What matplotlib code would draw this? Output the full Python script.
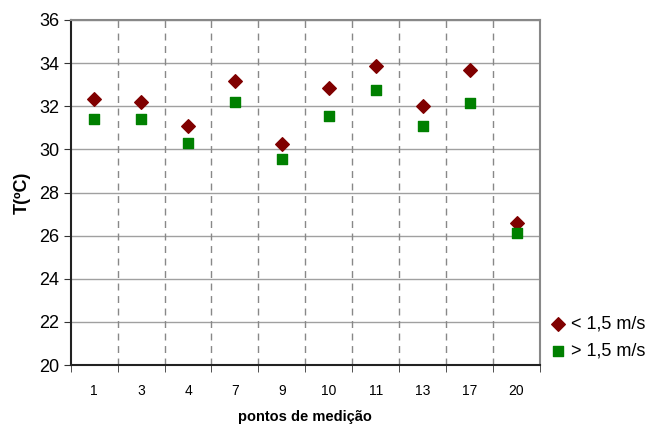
import matplotlib
matplotlib.use('Agg')
import matplotlib.pyplot as plt
import numpy as np

plt.rcParams['font.family'] = ['Liberation Sans', 'DejaVu Sans']

# pontos de medicao e temperaturas
pontos = ['1', '3', '4', '7', '9', '10', '11', '13', '17', '20']
t_baixa = [32.35, 32.18, 31.08, 33.19, 30.26, 32.85, 33.85, 32.01, 33.70, 26.60]
t_alta = [31.39, 31.39, 30.31, 32.21, 29.55, 31.56, 32.74, 31.07, 32.15, 26.12]
y_ticks = [20, 22, 24, 26, 28, 30, 32, 34, 36]

fig = plt.figure(figsize=(6.47, 4.28), dpi=100)
ax = fig.add_axes([70.7 / 647, 1 - 365 / 428, 469.3 / 647, 345 / 428])

x = np.arange(len(pontos))
ax.scatter(x, t_baixa, marker='D', s=48, color='#800000', zorder=3, label='< 1,5 m/s')
ax.scatter(x, t_alta, marker='s', s=58, color='#008000', zorder=3, label='> 1,5 m/s')

ax.set_xlim(-0.5, len(pontos) - 0.5)
ax.set_ylim(20, 36)
ax.set_yticks(y_ticks)
ax.set_xticks(x)
ax.set_xticklabels(pontos, fontsize=10)
ax.set_xticks(np.arange(-0.5, len(pontos)), minor=True)
ax.tick_params(axis='x', which='major', length=0, pad=14)
ax.tick_params(axis='x', which='minor', length=5, color='#333333')
ax.tick_params(axis='y', labelsize=13, length=5, color='#333333', pad=3)

# grelha
ax.yaxis.grid(True, color='#a0a0a0', linewidth=1)
for b in np.arange(0.5, len(pontos) - 1):
    ax.axvline(b, color='#888888', linestyle=(0, (5, 4)), linewidth=1, zorder=1)
ax.set_axisbelow(True)

for s in ['top', 'right']:
    ax.spines[s].set_color('#888888')
    ax.spines[s].set_linewidth(1.5)
for s in ['left', 'bottom']:
    ax.spines[s].set_color('#222222')
    ax.spines[s].set_linewidth(1.5)

ax.set_ylabel('T(ºC)', fontsize=13, fontweight='bold', labelpad=6)
ax.set_xlabel('pontos de medição', fontsize=10.5, fontweight='bold', labelpad=8)

leg = ax.legend(loc='lower left', bbox_to_anchor=(1.0, -0.005), frameon=False,
                fontsize=13, handletextpad=0.1, labelspacing=0.55,
                borderaxespad=0, handlelength=1.2, scatterpoints=1)

fig.savefig('out.png', dpi=100)
